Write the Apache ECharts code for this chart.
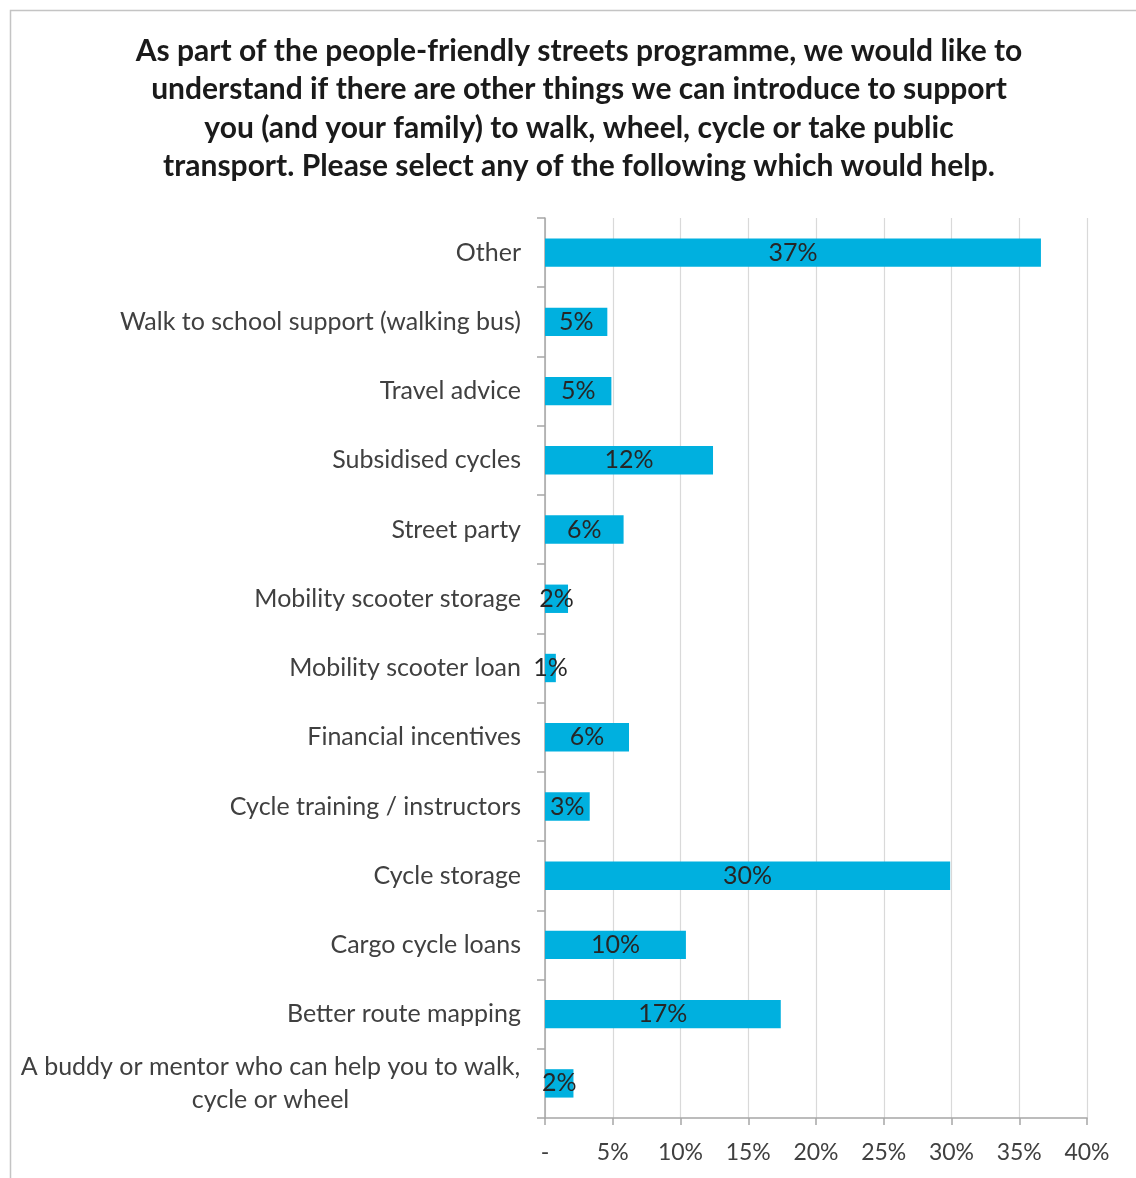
<!DOCTYPE html>
<html><head><meta charset="utf-8">
<script src="https://cdn.jsdelivr.net/npm/echarts@6/dist/echarts.min.js"></script>
<style>html,body{margin:0;padding:0;background:#fff}#c{width:1136px;height:1178px}</style>
</head><body><div id="c"></div>
<script>
const categories = [
  'Other',
  'Walk to school support (walking bus)',
  'Travel advice',
  'Subsidised cycles',
  'Street party',
  'Mobility scooter storage',
  'Mobility scooter loan',
  'Financial incentives',
  'Cycle training / instructors',
  'Cycle storage',
  'Cargo cycle loans',
  'Better route mapping',
  'A buddy or mentor who can help you to walk, cycle or wheel'
];
const values = [36.6, 4.6, 4.9, 12.4, 5.8, 1.7, 0.8, 6.2, 3.3, 29.9, 10.4, 17.4, 2.1];
const xTicks = [0, 5, 10, 15, 20, 25, 30, 35, 40];
const titleText = 'As part of the people-friendly streets programme, we would like to\nunderstand if there are other things we can introduce to support\nyou (and your family) to walk, wheel, cycle or take public\ntransport. Please select any of the following which would help.';
const buddyLines = ['A buddy or mentor who can help you to walk,', 'cycle or wheel'];

const FONT = 'Lato';
const CAT_SIZE = 25;
const ctx = document.createElement('canvas').getContext('2d');
ctx.font = CAT_SIZE + 'px ' + FONT;
const buddyW = Math.ceil(Math.max(...buddyLines.map(s => ctx.measureText(s).width))) + 1;

const chart = echarts.init(document.getElementById('c'), null, {renderer: 'canvas'});
chart.setOption({
  animation: false,
  backgroundColor: '#fff',
  title: {
    text: titleText,
    left: 574, top: 27, textAlign: 'center',
    textStyle: {fontFamily: FONT, fontWeight: 'bold', fontSize: 30, lineHeight: 38.5, color: '#1a1a1a'}
  },
  graphic: [{
    type: 'rect', left: 8, top: 8, shape: {width: 1300, height: 1300},
    style: {fill: 'none', stroke: '#c4c4c4', lineWidth: 1.5}, silent: true
  }],
  grid: {left: 545, right: 49, top: 218, bottom: 60, containLabel: false},
  xAxis: {
    type: 'value', min: xTicks[0], max: xTicks[xTicks.length - 1], interval: 5,
    axisLine: {show: true, lineStyle: {color: '#a6a6a6', width: 1.5}},
    axisTick: {show: true, length: 7, lineStyle: {color: '#a6a6a6', width: 1.5}},
    splitLine: {show: true, lineStyle: {color: '#d9d9d9', width: 1.2}},
    axisLabel: {
      margin: 23, fontFamily: FONT, fontSize: 23, color: '#404040',
      formatter: v => v === 0 ? '-' : v + '%'
    }
  },
  yAxis: {
    type: 'category', data: categories, inverse: true,
    axisLine: {show: true, lineStyle: {color: '#a6a6a6', width: 1.5}},
    axisTick: {show: true, length: 8, lineStyle: {color: '#a6a6a6', width: 1.5}},
    axisLabel: {
      margin: 24, fontFamily: FONT, fontSize: CAT_SIZE, color: '#404040', lineHeight: 33,
      formatter: v => v.indexOf('buddy') >= 0
        ? buddyLines.map(s => '{c|' + s + '}').join('\n')
        : v,
      rich: {c: {fontFamily: FONT, fontSize: CAT_SIZE, color: '#404040', width: buddyW, align: 'center', lineHeight: 33}}
    }
  },
  series: [{
    type: 'bar', data: values, barCategoryGap: '59%',
    itemStyle: {color: '#00B0DF'},
    label: {
      show: true, position: 'inside', fontFamily: FONT, fontSize: 25, color: '#262626',
      formatter: p => Math.round(p.value) + '%'
    }
  }]
});
</script></body></html>
